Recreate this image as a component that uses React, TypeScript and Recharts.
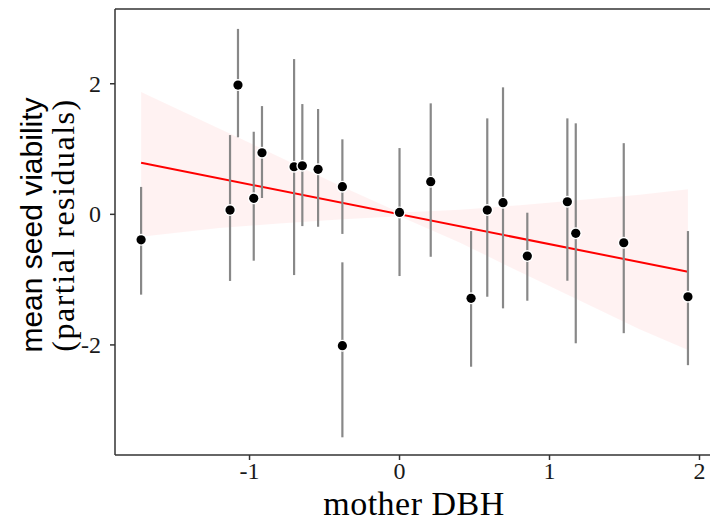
import React from "react";
import { ComposedChart, XAxis, YAxis, Scatter, ErrorBar, Line, Area, ReferenceLine } from "recharts";

// mother DBH (x), partial residual (y) and interval bounds for each mother tree
const xVals = [-1.723, -1.13, -1.077, -0.972, -0.917, -0.703, -0.648, -0.543, -0.381, -0.381, 0.0, 0.208, 0.477, 0.585, 0.69, 0.852, 1.119, 1.175, 1.495, 1.923];
const yVals = [-0.39, 0.066, 1.98, 0.245, 0.943, 0.729, 0.744, 0.689, 0.423, -2.012, 0.03, 0.5, -1.286, 0.066, 0.178, -0.639, 0.193, -0.291, -0.435, -1.262];
const yLow = [-1.23, -1.02, 1.18, -0.71, 0.25, -0.93, -0.18, -0.19, -0.3, -3.415, -0.945, -0.65, -2.334, -1.262, -1.44, -1.323, -1.017, -1.975, -1.82, -2.31];
const yHigh = [0.42, 1.214, 2.84, 1.265, 1.658, 2.378, 1.689, 1.613, 1.149, -0.735, 1.015, 1.7, -0.256, 1.47, 1.945, 0.025, 1.47, 1.394, 1.09, -0.256];

// fitted line endpoints
const lineX = [-1.723, 1.923];
const lineY = [0.79, -0.879];

// confidence band
const bandX = [-1.723, -1.2, -0.8, -0.4, 0, 0.4, 0.8, 1.2, 1.6, 1.923];
const bandLow = [-0.343, -0.21, -0.14, -0.08, -0.03, -0.43, -0.88, -1.32, -1.76, -2.078];
const bandHigh = [1.873, 1.31, 0.88, 0.44, 0.03, 0.07, 0.14, 0.22, 0.3, 0.383];

const xTicks = [-1, 0, 1, 2];
const yTicks = [-2, 0, 2];
const xDomain: [number, number] = [-1.897, 2.07];
const yDomain: [number, number] = [-3.686, 3.145];

const points = xVals.map((x, i) => ({
  x,
  y: yVals[i],
  err: [yVals[i] - yLow[i], yHigh[i] - yVals[i]],
}));
const lineData = lineX.map((x, i) => ({ x, fit: lineY[i] }));
const bandData = bandX.map((x, i) => ({ x, band: [bandLow[i], bandHigh[i]] }));

const serif = "'Liberation Serif', 'Times New Roman', serif";
const sans = "'Liberation Sans', Arial, sans-serif";

const Dot = (props: any) => {
  const { cx, cy } = props;
  if (cx == null || cy == null) return <g />;
  return (
    <g>
      <circle cx={cx} cy={cy} r={6} fill="#ffffff" />
      <circle cx={cx} cy={cy} r={4.6} fill="#000000" />
    </g>
  );
};

const XTick = (props: any) => {
  const { x, y, payload } = props;
  return (
    <text x={x} y={y + 15} textAnchor="middle" fontFamily={serif} fontSize={24} fill="#1a1a1a">
      {payload.value}
    </text>
  );
};

const YTick = (props: any) => {
  const { x, y, payload } = props;
  return (
    <text x={x} y={y + 8} textAnchor="end" fontFamily={serif} fontSize={24} fill="#1a1a1a">
      {payload.value}
    </text>
  );
};

const XLabel = () => (
  <text x={414} y={515} textAnchor="middle" fontFamily={serif} fontSize={34} letterSpacing={0.5} fill="#000">
    mother DBH
  </text>
);

const YLabel = () => (
  <g>
    <text
      transform="translate(42,225) rotate(-90)"
      textAnchor="middle"
      fontFamily={sans}
      fontSize={30}
      fill="#000"
    >
      mean seed viability
    </text>
    <text
      transform="translate(74,225) rotate(-90)"
      textAnchor="middle"
      fontFamily={serif}
      fontSize={32}
      letterSpacing={1.5}
      fill="#000"
    >
      (partial residuals)
    </text>
  </g>
);

export default function App() {
  return (
    <div style={{ position: "absolute", left: 0, top: 0, width: 710, height: 522, background: "#fff" }}>
      <ComposedChart width={710} height={522} margin={{ top: 9, right: 0, bottom: 0, left: 0 }}>
        <XAxis
          dataKey="x"
          type="number"
          domain={xDomain}
          allowDataOverflow
          ticks={xTicks}
          height={67}
          tickSize={5}
          tickMargin={4}
          axisLine={{ stroke: "#333", strokeWidth: 1.5 }}
          tickLine={{ stroke: "#333", strokeWidth: 1.5 }}
          tick={<XTick />}
          label={{ content: () => <XLabel /> }}
        />
        <YAxis
          type="number"
          domain={yDomain}
          allowDataOverflow
          ticks={yTicks}
          width={115}
          tickSize={5}
          tickMargin={9}
          axisLine={{ stroke: "#333", strokeWidth: 1.5 }}
          tickLine={{ stroke: "#333", strokeWidth: 1.5 }}
          tick={<YTick />}
          label={{ content: () => <YLabel /> }}
        />
        <Area
          data={bandData}
          dataKey="band"
          type="linear"
          stroke="none"
          fill="#ff0000"
          fillOpacity={0.05}
          isAnimationActive={false}
          activeDot={false}
        />
        <Line
          data={lineData}
          dataKey="fit"
          type="linear"
          stroke="#ff0000"
          strokeWidth={2}
          dot={false}
          activeDot={false}
          isAnimationActive={false}
        />
        <Scatter data={points} dataKey="y" shape={() => <g />} isAnimationActive={false}>
          <ErrorBar dataKey="err" direction="y" width={0} stroke="#888888" strokeWidth={2.2} />
        </Scatter>
        <Scatter data={points} dataKey="y" shape={Dot} isAnimationActive={false} />
        <ReferenceLine y={yDomain[1]} stroke="#333" strokeWidth={1.5} ifOverflow="visible" />
      </ComposedChart>
    </div>
  );
}
